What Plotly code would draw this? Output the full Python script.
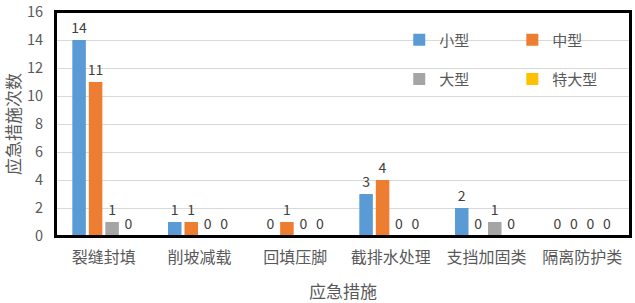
import plotly.graph_objects as go

categories = ["裂缝封填", "削坡减载", "回填压脚", "截排水处理", "支挡加固类", "隔离防护类"]
series_names = ["小型", "中型", "大型", "特大型"]
small = [14, 1, 0, 3, 2, 0]
medium = [11, 1, 1, 4, 0, 0]
large = [1, 0, 0, 0, 1, 0]
xlarge = [0, 0, 0, 0, 0, 0]
colors = ["#5B9BD5", "#ED7D31", "#A5A5A5", "#FFC000"]
y_ticks = [0, 2, 4, 6, 8, 10, 12, 14, 16]

FONT = "Noto Sans CJK SC, Noto Sans, sans-serif"
TXT = "#595959"

legend_ids = ["legend", "legend2", "legend3", "legend4"]
legend_pos = [(0.598, 0.875), (0.795, 0.875), (0.598, 0.7), (0.795, 0.7)]

fig = go.Figure()
for i, (name, vals) in enumerate(zip(series_names, [small, medium, large, xlarge])):
    fig.add_trace(go.Bar(
        x=categories, y=vals, name=name,
        marker=dict(color=colors[i], line=dict(width=0)),
        text=[str(v) for v in vals], textposition="outside",
        textfont=dict(family=FONT, size=14, color="#404040"),
        constraintext="none",
        cliponaxis=False,
        showlegend=True,
        legend=legend_ids[i],
    ))

legends = {}
for lid, (lx, ly) in zip(legend_ids, legend_pos):
    legends[lid] = dict(x=lx, y=ly, xanchor="left", yanchor="middle",
                        itemwidth=30, font=dict(family=FONT, size=15, color=TXT),
                        bgcolor="rgba(0,0,0,0)", visible=True)

fig.update_layout(
    width=635, height=303,
    margin=dict(l=56, r=5, t=12, b=67, autoexpand=False),
    showlegend=True,
    paper_bgcolor="white", plot_bgcolor="white",
    barmode="group", bargap=0.31, bargroupgap=0.18,
    font=dict(family=FONT, color=TXT, size=14),
    xaxis=dict(
        title=dict(text="应急措施", font=dict(family=FONT, size=17, color=TXT), standoff=19),
        tickfont=dict(family=FONT, size=16, color=TXT), tickangle=0,
        ticklabelstandoff=6,
        showline=True, linecolor="black", linewidth=2, mirror=True,
        ticks="", showgrid=False, automargin=True,
    ),
    yaxis=dict(
        title=dict(text="应急措施次数", font=dict(family=FONT, size=17, color=TXT), standoff=12),
        range=[0, 16], tickvals=y_ticks,
        tickfont=dict(family=FONT, size=14.5, color=TXT),
        ticklabelstandoff=8, ticklabeloverflow="allow",
        showline=True, linecolor="black", linewidth=2, mirror=True,
        showgrid=True, gridcolor="#D9D9D9", gridwidth=1,
        ticks="", zeroline=False, automargin=True,
    ),
    shapes=[dict(type="rect", xref="paper", yref="paper", x0=0, x1=1, y0=0, y1=1,
                 line=dict(color="black", width=2), fillcolor="rgba(0,0,0,0)", layer="above")],
    **legends,
)

fig.write_html("out.html", config={"displayModeBar": False},
               post_script="document.body.style.margin='0';")
